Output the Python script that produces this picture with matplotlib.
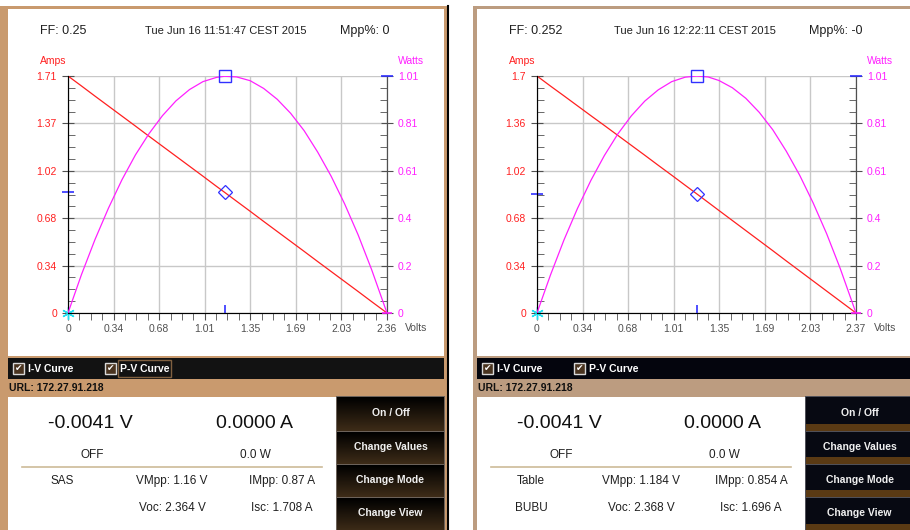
import numpy as np
import matplotlib.pyplot as plt
from matplotlib.patches import Rectangle
from matplotlib.colors import LinearSegmentedColormap

plt.rcParams['font.family'] = ['Liberation Sans', 'DejaVu Sans']

# sweep 1 (SAS)
volts_a = [0, 0.1, 0.2, 0.3, 0.4, 0.5, 0.6, 0.7, 0.8, 0.9, 1.0, 1.1, 1.16, 1.25, 1.35,
           1.45, 1.55, 1.65, 1.75, 1.85, 1.95, 2.05, 2.15, 2.25, 2.364]
amps_a = [1.708, 1.636, 1.563, 1.491, 1.419, 1.347, 1.274, 1.202, 1.130, 1.058, 0.986, 0.913, 0.870,
          0.805, 0.733, 0.660, 0.588, 0.516, 0.444, 0.371, 0.299, 0.227, 0.155, 0.082, 0]
watts_a = [0, 0.164, 0.313, 0.447, 0.568, 0.674, 0.764, 0.841, 0.904, 0.952, 0.986, 1.004, 1.009,
           1.006, 0.990, 0.957, 0.911, 0.851, 0.777, 0.686, 0.583, 0.465, 0.333, 0.185, 0]

# sweep 2 (Table BUBU)
volts_b = [0, 0.1, 0.2, 0.3, 0.4, 0.5, 0.6, 0.7, 0.8, 0.9, 1.0, 1.1, 1.184, 1.27, 1.35,
           1.45, 1.55, 1.65, 1.75, 1.85, 1.95, 2.05, 2.15, 2.25, 2.368]
amps_b = [1.696, 1.624, 1.554, 1.483, 1.412, 1.342, 1.271, 1.200, 1.129, 1.057, 0.986, 0.914, 0.854,
          0.792, 0.734, 0.662, 0.590, 0.518, 0.446, 0.373, 0.301, 0.229, 0.157, 0.085, 0]
watts_b = [0, 0.162, 0.311, 0.445, 0.565, 0.671, 0.763, 0.840, 0.903, 0.951, 0.986, 1.005, 1.010,
           1.006, 0.991, 0.960, 0.915, 0.855, 0.781, 0.690, 0.587, 0.469, 0.338, 0.191, 0]

ff = ['0.25', '0.252']
stamps = ['Tue Jun 16 11:51:47 CEST 2015', 'Tue Jun 16 12:22:11 CEST 2015']
mpp_pct = ['0', '-0']
vmpp = [1.16, 1.184]
impp = [0.87, 0.854]
voc = [2.364, 2.368]
isc = [1.708, 1.696]
pmax = [1.01, 1.01]
mode_a = ['SAS', 'Table']
mode_b = ['', 'BUBU']
volt_labels = [['0', '0.34', '0.68', '1.01', '1.35', '1.69', '2.03', '2.36'],
               ['0', '0.34', '0.68', '1.01', '1.35', '1.69', '2.03', '2.37']]
amp_labels = [['0', '0.34', '0.68', '1.02', '1.37', '1.71'],
              ['0', '0.34', '0.68', '1.02', '1.36', '1.7']]
watt_labels = ['0', '0.2', '0.4', '0.61', '0.81', '1.01']
meter_v = '-0.0041 V'
meter_a = '0.0000 A'
meter_state = 'OFF'
meter_w = '0.0 W'
url = 'URL: 172.27.91.218'
buttons = ['On / Off', 'Change Values', 'Change Mode', 'Change View']

W, H = 910, 530
fig = plt.figure(figsize=(W / 100, H / 100), dpi=100)
fig.patch.set_facecolor('white')

bg = fig.add_axes([0, 0, 1, 1])
bg.axis('off')

RED = '#ff2020'
MAG = '#ff20ff'
BLUE = '#3030ff'
GREY = '#505050'


def box(x0, y0, x1, y1, **kw):
    bg.add_patch(Rectangle((x0, y0), x1 - x0, y1 - y0, **kw))


def gradient(x0, y0, x1, y1, c_top, c_bot):
    cmap = LinearSegmentedColormap.from_list('g', [c_top, c_bot])
    g = np.linspace(0, 1, 64).reshape(-1, 1)
    bg.imshow(g, cmap=cmap, extent=[x0, x1, y1, y0], aspect='auto', zorder=2)


def panel(k, dx, edge, tan, bar, style):
    volts = [volts_a, volts_b][k]
    amps = [amps_a, amps_b][k]
    watts = [watts_a, watts_b][k]

    # frame, chart area, checkbox bar, url strip, meter area
    box(dx + edge, 6, dx + 447, H, facecolor=tan, edgecolor='none', zorder=1)
    box(dx + 8, 9, dx + 444, 356, facecolor='white', edgecolor='none', zorder=1)
    box(dx + 8, 358, dx + 444, 379, facecolor=bar, edgecolor='none', zorder=1)
    box(dx + 8, 397, dx + 336, H, facecolor='white', edgecolor='none', zorder=1)

    # header row
    bg.text(dx + 40, 31, f'FF: {ff[k]}', fontsize=9, va='center', color='#202020', zorder=3)
    bg.text(dx + 226, 31, stamps[k], fontsize=8, ha='center', va='center', color='#202020', zorder=3)
    bg.text(dx + 340, 31, f'Mpp%: {mpp_pct[k]}', fontsize=9, va='center', color='#202020', zorder=3)
    bg.text(dx + 53, 61, 'Amps', fontsize=7.5, ha='center', va='center', color=RED, zorder=3)
    bg.text(dx + 411, 61, 'Watts', fontsize=7.5, ha='center', va='center', color=MAG, zorder=3)
    bg.text(dx + 405, 328, 'Volts', fontsize=7.5, va='center', color=GREY, zorder=3)

    # checkboxes
    for bx, lab in [(13, 'I-V Curve'), (105, 'P-V Curve')]:
        box(dx + bx, 363, dx + bx + 11, 374, facecolor='#4a3420', edgecolor='#d8d8d8', lw=1, zorder=3)
        bg.text(dx + bx + 5.5, 368.5, '\u2714', fontsize=6.5, ha='center', va='center',
                color='white', family=['DejaVu Sans'], zorder=4)
        bg.text(dx + bx + 15, 369, lab, fontsize=7.5, va='center', color='white',
                fontweight='bold', zorder=4)
    if style == 0:
        box(dx + 118, 360, dx + 171, 377, facecolor='none', edgecolor='#806040', lw=1, zorder=4)

    bg.text(dx + 9, 388, url, fontsize=7.5, va='center', fontweight='bold', color='#101010', zorder=3)

    # meter readout
    bg.text(dx + 90, 424, meter_v, fontsize=14, ha='center', va='center', color='#101010', zorder=3)
    bg.text(dx + 254, 424, meter_a, fontsize=14, ha='center', va='center', color='#101010', zorder=3)
    bg.text(dx + 92, 455, meter_state, fontsize=8.5, ha='center', va='center', color='#202020', zorder=3)
    bg.text(dx + 255, 455, meter_w, fontsize=8.5, ha='center', va='center', color='#202020', zorder=3)
    bg.plot([dx + 22, dx + 322], [467, 467], color='#cdbb98', lw=1.2, zorder=3)
    bg.text(dx + 62, 481, mode_a[k], fontsize=8.5, ha='center', va='center', color='#202020', zorder=3)
    bg.text(dx + 62, 508, mode_b[k], fontsize=8.5, ha='center', va='center', color='#202020', zorder=3)
    bg.text(dx + 172, 481, f'VMpp: {vmpp[k]} V', fontsize=8.5, ha='center', va='center', color='#202020', zorder=3)
    bg.text(dx + 282, 481, f'IMpp: {impp[k]} A', fontsize=8.5, ha='center', va='center', color='#202020', zorder=3)
    bg.text(dx + 172, 508, f'Voc: {voc[k]} V', fontsize=8.5, ha='center', va='center', color='#202020', zorder=3)
    bg.text(dx + 282, 508, f'Isc: {isc[k]} A', fontsize=8.5, ha='center', va='center', color='#202020', zorder=3)

    # buttons
    rows = [(397, 431), (432, 464), (465, 497), (498, 531)]
    for (y0, y1), lab in zip(rows, buttons):
        x0, x1 = dx + 337, dx + 444
        if style == 0:
            box(x0 - 1, y0 - 1, x1 + 1, y1 + 1, facecolor='#6c625a', edgecolor='none', zorder=2)
            gradient(x0, y0, x1, y1, '#000000', '#3e2c18')
        else:
            box(x0 - 1, y0 - 1, x1 + 1, y1 + 1, facecolor='#505058', edgecolor='none', zorder=2)
            box(x0, y0, x1, y1, facecolor='#070912', edgecolor='none', zorder=2)
            box(x0, y1 - 7, x1, y1, facecolor='#5a3a14', edgecolor='none', zorder=2)
        bg.text((x0 + x1) / 2, (y0 + y1) / 2 - 1, lab, fontsize=7.5, ha='center', va='center',
                color='#f0f0f0', fontweight='bold', zorder=4)

    # I-V / P-V plot
    ax = fig.add_axes([(68 + dx) / W, 1 - 313 / H, 319 / W, 237 / H])
    ax.set_facecolor('none')
    ax.set_xlim(0, voc[k])
    ax.set_ylim(0, isc[k])
    ax.set_xticks(np.linspace(0, voc[k], 8))
    ax.set_xticklabels(volt_labels[k])
    ax.set_xticks(np.linspace(0, voc[k], 29), minor=True)
    ax.set_yticks(np.linspace(0, isc[k], 6))
    ax.set_yticklabels(amp_labels[k])
    ax.set_yticks(np.linspace(0, isc[k], 21), minor=True)
    ax.grid(True, which='major', color='#c8c8c8', lw=1)
    ax.set_axisbelow(True)
    for s in ['left', 'bottom', 'right']:
        ax.spines[s].set_color(GREY)
    ax.spines['top'].set_visible(False)
    ax.tick_params(axis='x', which='both', direction='out', length=5, color=GREY,
                   labelsize=7.5, labelcolor=GREY, pad=3)
    ax.tick_params(axis='y', which='major', direction='inout', length=8, color=GREY,
                   labelsize=7.5, labelcolor=RED, pad=4)
    ax.tick_params(axis='y', which='minor', direction='in', length=5, color=GREY)

    ax2 = ax.twinx()
    ax2.set_ylim(0, pmax[k])
    ax2.set_yticks(np.linspace(0, pmax[k], 6))
    ax2.set_yticklabels(watt_labels)
    ax2.set_yticks(np.linspace(0, pmax[k], 21), minor=True)
    ax2.spines['top'].set_visible(False)
    ax2.spines['right'].set_color(GREY)
    ax2.tick_params(axis='y', which='major', direction='inout', length=8, color=GREY,
                    labelsize=7.5, labelcolor=MAG, pad=4)
    ax2.tick_params(axis='y', which='minor', direction='in', length=5, color=GREY)

    ax.plot(volts, amps, color=RED, lw=0.9, zorder=3)
    ax2.plot(volts, watts, color=MAG, lw=0.9, zorder=3)

    # maximum power point markers
    ax.plot(vmpp[k], impp[k], marker='D', ms=7, mfc='none', mec=BLUE, mew=0.9, clip_on=False, zorder=5)
    ax2.plot(vmpp[k], pmax[k], marker='s', ms=9, mfc='none', mec=BLUE, mew=1, clip_on=False, zorder=5)
    ax.plot(0, impp[k], marker='_', ms=8, mec=BLUE, mew=1.2, clip_on=False, zorder=5)
    ax.plot(vmpp[k], 0, marker=[(0, 0), (0, 1)], ms=12, mec=BLUE, mew=1.2, clip_on=False, zorder=5)
    ax2.plot(voc[k], pmax[k], marker='_', ms=8, mec=BLUE, mew=1.2, clip_on=False, zorder=5)
    ax.plot(0, 0, marker=(6, 2, 0), ms=9, mec='#20e0f0', mew=1, clip_on=False, zorder=6)
    ax2.plot(voc[k], 0, marker='_', ms=7, mec=MAG, mew=1.2, clip_on=False, zorder=6)


panel(0, 0, 0, '#c99a6e', '#121212', 0)
panel(1, 469, 4, '#bc9c80', '#04050d', 1)

# divider between the two windows
bg.plot([447.5, 447.5], [6, H], color='black', lw=1.5, zorder=5)
bg.set_xlim(0, W)
bg.set_ylim(H, 0)

fig.savefig('out.png', dpi=100)
